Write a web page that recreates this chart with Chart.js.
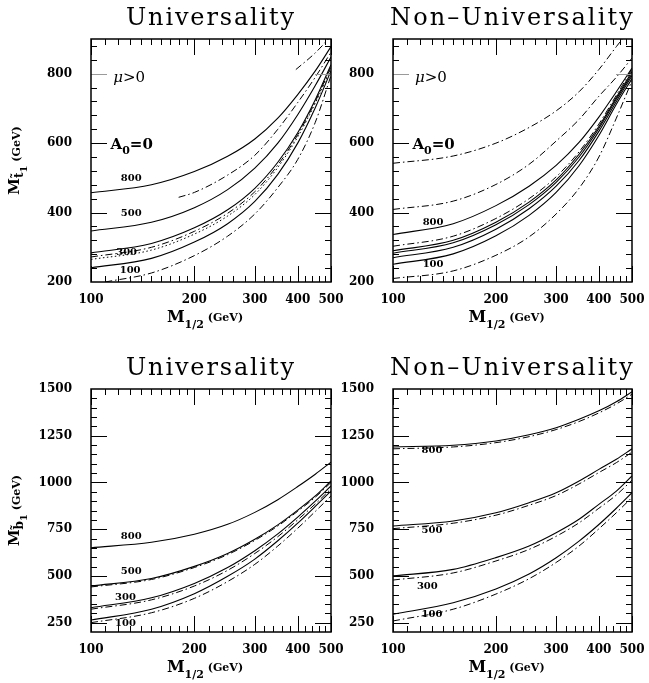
<!DOCTYPE html>
<html>
<head>
<meta charset="utf-8">
<script src="https://cdn.jsdelivr.net/npm/chart.js@4.4.0/dist/chart.umd.min.js"></script>
<style>
  body { margin: 0; background: #fff; }
  #wrap { position: relative; width: 649px; height: 683px; overflow: hidden; }
  canvas { position: absolute; }
</style>
</head>
<body>
<div id="wrap">
  <canvas id="stopU" width="360" height="333" style="left:0;top:0"></canvas>
  <canvas id="stopN" width="329" height="333" style="left:320px;top:0"></canvas>
  <canvas id="sbotU" width="360" height="333" style="left:0;top:350px"></canvas>
  <canvas id="sbotN" width="329" height="333" style="left:320px;top:350px"></canvas>
</div>
<script>
// M_1/2 grid (GeV) the curves are read at
const mGrid = [100, 150, 200, 250, 300, 350, 400, 450, 500];
const xTickVals = [100, 200, 300, 400, 500];
const xMinorVals = [110, 120, 130, 140, 150, 160, 170, 180, 190, 220, 240, 260, 280,
  320, 340, 360, 380, 420, 440, 460, 480];
const stopTicks = [200, 400, 600, 800];
const sbotTicks = [250, 500, 750, 1000, 1250, 1500];

// stop mass, universality (m0 = 800, 500, 300, 100)
const stopU_800 = [457, 480, 518, 562, 612, 672, 740, 808, 878];
const stopU_500 = [347, 372, 414, 466, 528, 600, 682, 766, 848];
const stopU_300 = [284, 311, 356, 408, 470, 545, 630, 725, 826];
const stopU_100 = [241, 268, 315, 368, 432, 510, 600, 702, 808];
const stopU_dd300 = [272, 300, 346, 398, 460, 537, 624, 720, 820];
const stopU_dot = [265, 292, 338, 390, 452, 530, 618, 715, 814];
const stopU_ddHighM = [180, 200, 250, 300, 350, 400, 450, 500];
const stopU_ddHigh = [444, 458, 508, 565, 640, 717, 790, 862];
const stopU_ddLowM = [110, 150, 200, 250, 300, 350, 400, 450, 500];
const stopU_ddLow = [200, 226, 276, 332, 396, 472, 553, 660, 795];
const stopU_ddTopM = [395, 450, 500];
const stopU_ddTop = [812, 860, 908];

// stop mass, non-universality
const stopN_dd1 = [542, 563, 600, 645, 693, 748, 812, 878, 935];
const stopN_dd2 = [409, 433, 481, 539, 606, 668, 735, 790, 845];
const stopN_800 = [337, 368, 420, 476, 536, 602, 675, 748, 816];
const stopN_dd3 = [303, 332, 383, 440, 503, 575, 655, 738, 812];
const stopN_sA = [290, 320, 372, 430, 494, 568, 648, 732, 806];
const stopN_sB = [283, 313, 365, 423, 487, 560, 642, 727, 800];
const stopN_sC = [270, 300, 352, 411, 476, 550, 634, 720, 794];
const stopN_100 = [251, 281, 333, 392, 458, 535, 622, 712, 786];
const stopN_ddLow = [210, 232, 277, 330, 396, 470, 560, 672, 780];

// sbottom mass, universality
const sbotU_800 = [651, 680, 723, 776, 840, 908, 978, 1044, 1109];
const sbotU_500 = [446, 486, 551, 620, 696, 773, 852, 928, 1008];
const sbotU_dd500 = [441, 481, 545, 614, 690, 767, 846, 921, 1000];
const sbotU_300 = [330, 383, 460, 545, 635, 725, 815, 900, 981];
const sbotU_dd300 = [322, 372, 446, 530, 620, 710, 800, 885, 966];
const sbotU_100 = [264, 322, 405, 498, 590, 688, 782, 872, 954];
const sbotU_dd100 = [250, 303, 380, 470, 562, 660, 755, 845, 928];

// sbottom mass, non-universality
const sbotN_800 = [1190, 1199, 1222, 1255, 1293, 1338, 1383, 1432, 1485];
const sbotN_dd800 = [1180, 1190, 1213, 1245, 1283, 1326, 1372, 1420, 1472];
const sbotN_500 = [767, 794, 838, 892, 945, 1008, 1070, 1124, 1180];
const sbotN_dd500 = [753, 782, 825, 878, 930, 992, 1053, 1106, 1162];
const sbotN_300 = [500, 535, 598, 660, 731, 803, 883, 954, 1035];
const sbotN_dd300 = [478, 516, 580, 642, 712, 784, 862, 933, 1012];
const sbotN_100 = [295, 356, 430, 510, 597, 686, 775, 862, 945];
const sbotN_dd100 = [259, 322, 403, 485, 572, 660, 752, 838, 920];

const SERIF = '"DejaVu Serif", serif';
const STYLES = {
  solid: { borderDash: [], borderWidth: 1.1 },
  dashdot: { borderDash: [7, 3, 1.5, 3], borderWidth: 1 },
  dotted: { borderDash: [1.5, 2.5], borderWidth: 1 },
};

function series(ms, vals, style) {
  return Object.assign({
    data: ms.map((m, i) => ({ x: m, y: vals[i] })),
    borderColor: "#000",
    pointRadius: 0,
    fill: false,
    cubicInterpolationMode: "monotone",
  }, STYLES[style]);
}

// draw a list of text runs (for sub/superscripts) starting at x
function drawRuns(ctx, runs, x, y, align) {
  let total = 0;
  runs.forEach((r) => { ctx.font = r.font; total += ctx.measureText(r.t).width; });
  let cx = align === "center" ? x - total / 2 : x;
  runs.forEach((r) => {
    ctx.font = r.font;
    ctx.fillText(r.t, cx, y + (r.dy || 0));
    cx += ctx.measureText(r.t).width;
  });
}

// frame, inward ticks, titles and in-plot labels
const panelDeco = {
  id: "panelDeco",
  afterDraw(chart, args, o) {
    const { ctx, chartArea: a, scales: { x, y } } = chart;
    ctx.save();
    ctx.lineWidth = 1;
    const seg = (x1, y1, x2, y2) => {
      ctx.beginPath(); ctx.moveTo(x1, y1); ctx.lineTo(x2, y2); ctx.stroke();
    };

    for (let v = o.yMin + o.yMinor; v < o.yMax; v += o.yMinor) {
      const py = Math.round(y.getPixelForValue(v)) + 0.5;
      const len = o.yMajor.includes(v) ? 16 : 6;
      ctx.strokeStyle = v === o.grayTick ? "#9a9a9a" : "#000";
      seg(a.left, py, a.left + len, py);
      seg(a.right, py, a.right - len, py);
    }
    ctx.strokeStyle = "#000";
    xTickVals.concat(xMinorVals).forEach((m) => {
      const px = Math.round(x.getPixelForValue(m)) + 0.5;
      const len = xTickVals.includes(m) ? 16 : 6;
      seg(px, a.bottom, px, a.bottom - len);
      seg(px, a.top, px, a.top + len);
    });

    ctx.lineWidth = 1.5;
    ctx.strokeRect(a.left, a.top, a.right - a.left, a.bottom - a.top);

    ctx.fillStyle = "#000";
    ctx.textAlign = "left";
    ctx.textBaseline = "alphabetic";

    // panel title, spaced out
    ctx.font = "24px " + SERIF;
    ctx.letterSpacing = "0px";
    const w0 = ctx.measureText(o.title).width;
    const ls = (o.titleWidth - w0) / o.title.length;
    ctx.letterSpacing = ls + "px";
    ctx.fillText(o.title, (a.left + a.right) / 2 - o.titleWidth / 2, 25);
    ctx.letterSpacing = "0px";

    // x axis title
    drawRuns(ctx, [
      { t: "M", font: "bold 16px " + SERIF },
      { t: "1/2", font: "bold 11px " + SERIF, dy: 6 },
      { t: " (GeV)", font: "bold 11px " + SERIF, dy: -1 },
    ], (a.left + a.right) / 2 - 6, 322, "center");

    // y axis title
    if (o.ySub) {
      ctx.save();
      ctx.translate(19, (a.top + a.bottom) / 2);
      ctx.rotate(-Math.PI / 2);
      drawRuns(ctx, [
        { t: "M", font: "bold 15px " + SERIF },
        { t: o.ySub, font: "bold 12px " + SERIF, dy: 4 },
        { t: "1", font: "bold 10px " + SERIF, dy: 8 },
        { t: " (GeV)", font: "bold 11px " + SERIF, dy: 1 },
      ], 0, 0, "center");
      ctx.restore();
    }

    // curve labels
    ctx.textAlign = "center";
    ctx.textBaseline = "middle";
    ctx.font = "bold 10px " + SERIF;
    o.labels.forEach((l) => {
      ctx.fillText(l.t, x.getPixelForValue(l.m), y.getPixelForValue(l.v));
    });

    if (o.mu) {
      ctx.textAlign = "left";
      ctx.textBaseline = "alphabetic";
      drawRuns(ctx, [
        { t: "\u03bc", font: "italic 15px " + SERIF },
        { t: ">0", font: "15px " + SERIF },
      ], x.getPixelForValue(o.mu.m), y.getPixelForValue(o.mu.v), "left");
      drawRuns(ctx, [
        { t: "A", font: "bold 15px " + SERIF },
        { t: "0", font: "bold 11px " + SERIF, dy: 5 },
        { t: "=0", font: "bold 15px " + SERIF },
      ], x.getPixelForValue(o.a0.m), y.getPixelForValue(o.a0.v), "left");
    }
    ctx.restore();
  },
};

function makePanel(id, cfg) {
  const canvas = document.getElementById(id);
  const tickFont = { family: SERIF, size: 12, weight: "bold" };
  return new Chart(canvas, {
    type: "line",
    data: { datasets: cfg.datasets },
    options: {
      responsive: false,
      animation: false,
      devicePixelRatio: 1,
      layout: { padding: { top: 39, right: cfg.padRight, left: 0, bottom: 0 } },
      plugins: {
        legend: { display: false },
        tooltip: { enabled: false },
        panelDeco: cfg.deco,
      },
      scales: {
        x: {
          type: "logarithmic",
          min: 100,
          max: 500,
          grid: { display: false },
          border: { display: false },
          ticks: {
            font: tickFont,
            color: "#000",
            autoSkip: false,
            maxRotation: 0,
            padding: 3,
            callback: (v) => String(v),
          },
          afterBuildTicks: (s) => { s.ticks = xTickVals.map((v) => ({ value: v })); },
          afterFit: (s) => { s.height = 51; },
        },
        y: {
          type: "linear",
          min: cfg.deco.yMin,
          max: cfg.deco.yMax,
          grid: { display: false },
          border: { display: false },
          ticks: {
            font: tickFont,
            color: "#000",
            padding: 11,
            callback: (v) => String(v),
          },
          afterBuildTicks: (s) => { s.ticks = cfg.deco.yMajor.map((v) => ({ value: v })); },
          afterFit: (s) => { s.width = cfg.yWidth; },
        },
      },
    },
    plugins: [panelDeco],
  });
}

makePanel("stopU", {
  padRight: 29,
  yWidth: 91,
  datasets: [
    series(mGrid, stopU_800, "solid"),
    series(mGrid, stopU_500, "solid"),
    series(mGrid, stopU_300, "solid"),
    series(mGrid, stopU_100, "solid"),
    series(mGrid, stopU_dd300, "dashdot"),
    series(mGrid, stopU_dot, "dotted"),
    series(stopU_ddHighM, stopU_ddHigh, "dashdot"),
    series(stopU_ddLowM, stopU_ddLow, "dashdot"),
    series(stopU_ddTopM, stopU_ddTop, "dashdot"),
  ],
  deco: {
    title: "Universality", titleWidth: 170,
    yMin: 200, yMax: 900, yMinor: 40, yMajor: stopTicks, grayTick: 800,
    ySub: "t\u0303",
    mu: { m: 116, v: 776 }, a0: { m: 114, v: 583 },
    labels: [
      { t: "800", m: 131, v: 497 },
      { t: "500", m: 131, v: 399 },
      { t: "300", m: 127, v: 286 },
      { t: "100", m: 130, v: 232 },
    ],
  },
});

makePanel("stopN", {
  padRight: 17,
  yWidth: 73,
  datasets: [
    series(mGrid, stopN_dd1, "dashdot"),
    series(mGrid, stopN_dd2, "dashdot"),
    series(mGrid, stopN_800, "solid"),
    series(mGrid, stopN_dd3, "dashdot"),
    series(mGrid, stopN_sA, "solid"),
    series(mGrid, stopN_sB, "solid"),
    series(mGrid, stopN_sC, "solid"),
    series(mGrid, stopN_100, "solid"),
    series(mGrid, stopN_ddLow, "dashdot"),
  ],
  deco: {
    title: "Non\u2013Universality", titleWidth: 245,
    yMin: 200, yMax: 900, yMinor: 40, yMajor: stopTicks, grayTick: 800,
    mu: { m: 116, v: 776 }, a0: { m: 114, v: 583 },
    labels: [
      { t: "800", m: 131, v: 373 },
      { t: "100", m: 131, v: 252 },
    ],
  },
});

makePanel("sbotU", {
  padRight: 29,
  yWidth: 91,
  datasets: [
    series(mGrid, sbotU_800, "solid"),
    series(mGrid, sbotU_500, "solid"),
    series(mGrid, sbotU_dd500, "dashdot"),
    series(mGrid, sbotU_300, "solid"),
    series(mGrid, sbotU_dd300, "dashdot"),
    series(mGrid, sbotU_100, "solid"),
    series(mGrid, sbotU_dd100, "dashdot"),
  ],
  deco: {
    title: "Universality", titleWidth: 170,
    yMin: 200, yMax: 1500, yMinor: 50, yMajor: sbotTicks,
    ySub: "b\u0303",
    labels: [
      { t: "800", m: 131, v: 714 },
      { t: "500", m: 131, v: 526 },
      { t: "300", m: 126, v: 387 },
      { t: "100", m: 126, v: 248 },
    ],
  },
});

makePanel("sbotN", {
  padRight: 17,
  yWidth: 73,
  datasets: [
    series(mGrid, sbotN_800, "solid"),
    series(mGrid, sbotN_dd800, "dashdot"),
    series(mGrid, sbotN_500, "solid"),
    series(mGrid, sbotN_dd500, "dashdot"),
    series(mGrid, sbotN_300, "solid"),
    series(mGrid, sbotN_dd300, "dashdot"),
    series(mGrid, sbotN_100, "solid"),
    series(mGrid, sbotN_dd100, "dashdot"),
  ],
  deco: {
    title: "Non\u2013Universality", titleWidth: 245,
    yMin: 200, yMax: 1500, yMinor: 50, yMajor: sbotTicks,
    labels: [
      { t: "800", m: 130, v: 1174 },
      { t: "500", m: 130, v: 746 },
      { t: "300", m: 126, v: 446 },
      { t: "100", m: 130, v: 296 },
    ],
  },
});
</script>
</body>
</html>
